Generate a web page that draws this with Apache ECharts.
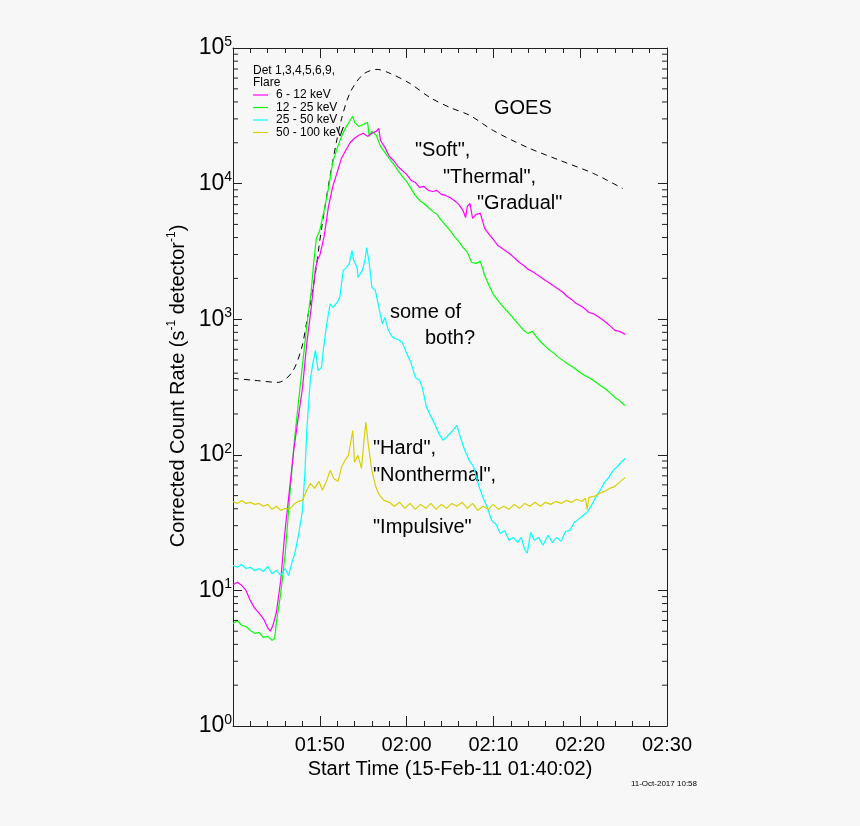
<!DOCTYPE html>
<html><head><meta charset="utf-8">
<script src="https://cdn.jsdelivr.net/npm/echarts@6/dist/echarts.min.js"></script>
<style>html,body{margin:0;padding:0;background:#f7f7f7;}#c{width:860px;height:826px;}</style>
</head><body><div id="c"></div>
<script>
// x = minutes after 01:40 (start time 15-Feb-11 01:40:02)
const xTickLabels = ['', '01:50', '02:00', '02:10', '02:20', '02:30'];
const yMinorTicks = [2,3,4,5,6,7,8,9,20,30,40,50,60,70,80,90,200,300,400,500,600,700,800,900,
  2000,3000,4000,5000,6000,7000,8000,9000,20000,30000,40000,50000,60000,70000,80000,90000];

const goes = [[0,366],[2.5,354],[5.2,342],[6.8,406],[7.9,610],[8.5,960],[9.0,1400],[9.5,2200],[10.0,3800],
  [10.6,6800],[11.2,11500],[11.9,20000],[12.5,30000],[13.5,47000],[15.0,64000],[16.6,69500],[18.1,65000],
  [20.4,54700],[22.7,43100],[25.0,36400],[27.3,31800],[30.0,24600],[33.9,18500],[37.7,14800],[41.5,11900],[44.9,9200]];

const kev6_12 = [[0,11.0],[0.5,11.5],[1,10.9],[1.5,10.0],[2,8.4],[2.5,7.4],[3,6.8],[3.5,6.2],[4,5.3],[4.3,5.0],
  [4.6,5.5],[5,6.9],[5.5,11.9],[6,27.7],[6.5,54.7],[7,108],[7.5,185],[8,309],[8.5,664],[9,1200],[9.5,2370],
  [9.8,2810],[10,2960],[10.5,4080],[11,6790],[11.5,9550],[12,12100],[12.5,15400],[13,17600],[13.5,20100],
  [14,21600],[14.5,22700],[15,23500],[15.5,22300],[16,23500],[16.5,24300],[16.8,25500],[17,20800],[17.5,18500],
  [18,15900],[18.5,14800],[19,13400],[19.5,12500],[20,11700],[20.5,10600],[21,10200],[21.5,9380],[22,9530],
  [22.5,8910],[23,8750],[23.5,8910],[24,8320],[24.5,8180],[25,7900],[25.5,7510],[26,7030],[26.5,6340],[26.8,5630],
  [27,6790],[27.3,7140],[27.6,5530],[28,5930],[28.5,6030],[29,4670],[29.5,4220],[30,3870],[30.5,3500],[31,3330],
  [31.5,3160],[32,3000],[32.5,2800],[33,2620],[33.5,2490],[34,2330],[34.5,2250],[35,2140],[35.5,2030],[36,1930],
  [36.5,1840],[37,1750],[37.5,1660],[38,1580],[38.5,1470],[39,1400],[39.5,1310],[40,1260],[40.5,1200],[41,1120],
  [41.5,1100],[42,1050],[42.5,998],[43,946],[43.5,885],[44,827],[44.5,813],[45,786],[45.2,772]];

const kev12_25 = [[0,5.71],[0.5,6.0],[1,5.52],[1.5,5.42],[2,5.07],[2.5,4.82],[3,4.9],[3.5,4.5],[4,4.58],[4.5,4.28],
  [4.8,4.42],[5,5.81],[5.5,9.5],[6,18.1],[6.5,46],[7,114],[7.5,232],[8,457],[8.5,899],[9,1580],[9.3,2620],[9.6,3940],
  [10,4520],[10.5,6340],[11,9230],[11.5,14400],[12,18200],[12.5,22300],[13,26000],[13.5,29300],[13.8,31300],
  [14,28300],[14.5,26400],[15,27300],[15.5,28300],[15.7,22300],[16,24300],[16.5,22700],[17,18800],[17.5,17000],
  [18,15300],[18.5,13900],[19,12500],[19.5,11300],[20,10400],[20.5,9230],[21,8190],[21.5,7510],[22,7140],[22.5,6670],
  [23,6240],[23.5,5930],[24,5350],[24.5,4920],[25,4520],[25.5,4080],[26,3750],[26.5,3390],[27,3110],[27.5,2620],
  [28,2580],[28.5,2670],[29,2100],[29.5,1770],[30,1520],[30.5,1380],[31,1260],[31.5,1160],[32,1070],[32.5,980],
  [33,899],[33.5,827],[34,786],[34.5,813],[35,735],[35.5,676],[36,630],[36.5,589],[37,560],[37.5,523],[38,497],
  [38.5,472],[39,449],[39.5,427],[40,405],[40.5,385],[41,372],[41.5,354],[42,336],[42.5,319],[43,303],[43.5,284],
  [44,265],[44.5,252],[45,235],[45.2,231]];

const kev25_50 = [[0,15.3],[0.5,14.8],[1,15.5],[1.5,14.5],[2,14.8],[2.5,14.0],[3,14.5],[3.5,13.8],[4,15.0],[4.5,13.3],
  [5,14.0],[5.5,12.9],[6,14.5],[6.4,12.9],[6.8,16.1],[7.2,19.7],[7.6,26.8],[8,38.9],[8.3,76.8],[8.5,151],[8.9,354],
  [9.2,472],[9.5,589],[9.8,419],[10.2,441],[10.4,589],[10.8,927],[11.2,1300],[11.5,1220],[12,1330],[12.3,1450],
  [12.7,2290],[13.1,2410],[13.4,2580],[13.7,3210],[13.9,2720],[14.3,2410],[14.4,2030],[14.9,2290],[15.2,2720],
  [15.4,3380],[15.7,2580],[16,1720],[16.4,1630],[16.8,1220],[17.2,927],[17.5,1030],[17.9,826],[18.4,733],[19,709],
  [19.5,675],[20,560],[20.5,480],[21,372],[21.5,354],[21.8,314],[22.3,224],[22.8,192],[23.3,165],[23.7,144],[24.2,128],
  [24.7,137],[25.3,151],[25.8,165],[26.2,134],[26.7,108],[27.2,91],[27.7,82],[28.3,59.4],[28.8,48.5],[29.3,40.9],
  [29.8,32.8],[30.3,30.7],[30.8,26.3],[31.3,27.7],[31.8,23.4],[32.3,24.6],[32.8,22.6],[33.2,24.6],[33.6,20.1],
  [33.9,18.8],[34.3,26.8],[34.7,23.4],[35.2,24.6],[35.7,21.5],[36.3,25.5],[36.8,22.6],[37.3,24.6],[37.8,23.0],
  [38.3,27.2],[38.8,27.7],[39.3,31.7],[39.8,33.4],[40.3,35.7],[40.8,37.6],[41.3,42.4],[41.8,48.5],[42.3,54.6],
  [42.8,62.6],[43.3,68.1],[43.8,76.8],[44.3,82],[44.8,89.3],[45.2,94]];

const kev50_100 = [[0,45.3],[0.5,43.8],[1,46.1],[1.5,43.8],[2,44.6],[2.5,43.1],[3,43.8],[3.5,41.7],[4,43.1],[4.5,39.6],
  [5,41.7],[5.5,38.9],[6,40.3],[6.5,39.6],[7,43.1],[7.5,45.3],[8,46.1],[8.5,54.7],[8.9,61.5],[9.4,56.5],[9.9,63.7],
  [10.3,54.7],[10.8,64.7],[11.2,76.8],[11.6,67],[12.1,63.7],[12.5,80.7],[12.9,91],[13.3,99],[13.6,128],[13.8,151],
  [14,88],[14.4,99],[14.8,79.4],[15.1,128],[15.3,174],[15.6,117],[16,76.8],[16.4,59.4],[16.8,51.1],[17.4,46.1],
  [18,44.6],[18.6,41.7],[19.2,44.6],[19.8,40.3],[20.4,43.8],[21,39.6],[21.6,43.1],[22.2,40.3],[22.8,43.8],[23.4,39.6],
  [24,43.1],[24.6,40.3],[25.2,43.8],[25.8,41.7],[26.4,44.6],[27,40.3],[27.6,43.8],[28.2,38.9],[28.8,41.7],[29.4,39.6],
  [30,43.1],[30.6,39.6],[31.2,41.7],[31.8,39.6],[32.4,43.1],[33,40.3],[33.6,43.8],[34.2,41.7],[34.8,44.6],[35.4,41.7],
  [36,44.6],[36.6,43.1],[37.2,45.3],[37.8,43.8],[38.4,46.1],[39,44.6],[39.6,47],[40.2,45.3],[40.6,47.8],[40.8,39.6],
  [41,48.5],[41.6,49.3],[42.2,51.9],[42.8,53.7],[43.4,56.5],[44,58.5],[44.5,62.6],[44.9,65.9],[45.2,68.1]];

const FONT = '"Liberation Sans", Arial, Helvetica, sans-serif';
const AX = '#222';

const chart = echarts.init(document.getElementById('c'), null, {renderer: 'canvas'});

function axisX(pos, labels) {
  return {
    type: 'value', position: pos, min: 0, max: 50, interval: 10,
    axisLine: {show: true, onZero: false, lineStyle: {color: AX, width: 1}},
    axisTick: {show: true, inside: true, length: 10, lineStyle: {color: AX, width: 1}},
    minorTick: {show: true, splitNumber: 5, length: 5, lineStyle: {color: AX, width: 1}},
    splitLine: {show: false},
    axisLabel: labels ? {show: true, margin: 9, color: '#000', fontFamily: FONT, fontSize: 20,
      showMinLabel: true, showMaxLabel: true,
      formatter: v => xTickLabels[Math.round(v / 10)]} : {show: false},
    name: labels ? 'Start Time (15-Feb-11 01:40:02)' : '',
    nameLocation: 'middle', nameGap: 31,
    nameTextStyle: {color: '#000', fontFamily: FONT, fontSize: 20}
  };
}
function axisY(pos, labels) {
  return {
    type: 'log', logBase: 10, position: pos, min: 1, max: 100000,
    axisLine: {show: true, onZero: false, lineStyle: {color: AX, width: 1}},
    axisTick: {show: true, inside: true, length: 9, lineStyle: {color: AX, width: 1}},
    splitLine: {show: false},
    axisLabel: labels ? {show: true, margin: 1, color: '#000', fontFamily: FONT,
      showMinLabel: true, showMaxLabel: true,
      formatter: v => '{b|10}{s|' + Math.round(Math.log10(v)) + '}',
      rich: {b: {fontSize: 23, lineHeight: 26, fontFamily: FONT, color: '#000'},
             s: {fontSize: 14, lineHeight: 13, verticalAlign: 'top', fontFamily: FONT, color: '#000'}}} : {show: false}
  };
}

function lineSeries(name, data, color) {
  return {name, type: 'line', data, xAxisIndex: 0, yAxisIndex: 0, showSymbol: false, symbol: 'none',
    lineStyle: {color, width: 1.2}, itemStyle: {color}, animation: false, clip: true};
}

const txt = (t, x, y, size) => ({type: 'text', x, y, silent: true,
  style: {text: t, fill: '#000', font: (size || 20) + 'px ' + FONT, verticalAlign: 'middle', align: 'left'}});

chart.setOption({
  backgroundColor: '#f7f7f7',
  animation: false,
  grid: {left: 233, right: 193, top: 48, bottom: 100, containLabel: false},
  xAxis: [axisX('bottom', true), axisX('top', false)],
  yAxis: [axisY('left', true), axisY('right', false)],
  legend: {
    show: true, orient: 'vertical', left: 253, top: 89, padding: 0, itemGap: 0.5, itemWidth: 15, itemHeight: 1.2,
    icon: 'rect', selectedMode: false,
    textStyle: {fontFamily: FONT, fontSize: 12, color: '#000', lineHeight: 12, padding: [0, 0, 0, 3]},
    data: ['6 - 12 keV', '12 - 25 keV', '25 - 50 keV', '50 - 100 keV']
  },
  series: [
    {name: 'GOES', type: 'line', data: goes, showSymbol: false, symbol: 'none', smooth: 0.3,
      lineStyle: {color: '#000', width: 1, type: [6, 5]}, itemStyle: {color: '#000'}},
    lineSeries('12 - 25 keV', kev12_25, '#00ff00'),
    lineSeries('6 - 12 keV', kev6_12, '#ff00ff'),
    lineSeries('25 - 50 keV', kev25_50, '#00ffff'),
    lineSeries('50 - 100 keV', kev50_100, '#d8d000'),
    {type: 'custom', name: 'minorTicks', silent: true, z: 5,
      data: yMinorTicks.map(v => [0, v]), encode: {x: 0, y: 1},
      renderItem: (params, api) => {
        const l = api.coord([0, api.value(1)]);
        const r = api.coord([50, api.value(1)]);
        return {type: 'group', children: [
          {type: 'line', shape: {x1: l[0], y1: l[1], x2: l[0] + 5, y2: l[1]}, style: {stroke: AX, lineWidth: 1}},
          {type: 'line', shape: {x1: r[0], y1: r[1], x2: r[0] - 5, y2: r[1]}, style: {stroke: AX, lineWidth: 1}}
        ]};
      }}
  ],
  graphic: [
    txt('Det 1,3,4,5,6,9,', 253, 71, 12),
    txt('Flare', 253, 83, 12),
    txt('GOES', 494, 108),
    txt('"Soft",', 415, 150),
    txt('"Thermal",', 443, 177),
    txt('"Gradual"', 477, 203),
    txt('some of', 390, 312),
    txt('both?', 425, 338),
    txt('"Hard",', 373, 448),
    txt('"Nonthermal",', 373, 475),
    txt('"Impulsive"', 373, 527),
    {type: 'text', x: 697, y: 784, silent: true,
      style: {text: '11-Oct-2017 10:58', fill: '#000', font: '8px ' + FONT, align: 'right', verticalAlign: 'middle'}},
    {type: 'text', x: 178, y: 386, rotation: Math.PI / 2, silent: true,
      style: {text: '{a|Corrected Count Rate (s}{s|-1}{a| detector}{s|-1}{a|)}', align: 'center', verticalAlign: 'middle',
        rich: {a: {fontSize: 20, lineHeight: 24, fontFamily: FONT, fill: '#000'},
               s: {fontSize: 12, lineHeight: 12, verticalAlign: 'top', fontFamily: FONT, fill: '#000'}}}}
  ]
});
</script></body></html>
